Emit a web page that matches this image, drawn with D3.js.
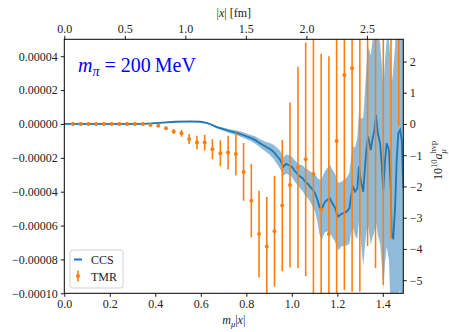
<!DOCTYPE html>
<html>
<head>
<meta charset="utf-8">
<script src="https://cdn.jsdelivr.net/npm/d3@7"></script>
<style>
  body { margin: 0; background: #fff; }
  svg text { font-family: "Liberation Serif", "DejaVu Serif", serif; fill: #222; }
</style>
</head>
<body>
<svg id="chart" width="449" height="332"></svg>
<script>
// values; x is m_mu|x|, y is in units of 1e-5
const ccsX = [0.000, 0.157, 0.346, 0.421, 0.487, 0.553, 0.597, 0.626, 0.645, 0.670, 0.698, 0.728, 0.758, 0.785,
  0.816, 0.838, 0.860, 0.890, 0.904, 0.919, 0.935, 0.949, 0.963, 0.975, 0.985, 1.000, 1.010, 1.022, 1.036, 1.047,
  1.058, 1.071, 1.080, 1.093, 1.102, 1.113, 1.121, 1.131, 1.139, 1.146, 1.160, 1.168, 1.175, 1.190, 1.199, 1.204,
  1.219, 1.226, 1.241, 1.253, 1.260, 1.268, 1.278, 1.288, 1.295, 1.303, 1.314, 1.322, 1.329, 1.336, 1.347, 1.354,
  1.363, 1.370, 1.378, 1.388, 1.395, 1.402, 1.410, 1.417, 1.427, 1.435, 1.439, 1.446, 1.454, 1.461, 1.468, 1.476,
  1.483, 1.490]
const ccsY = [0, 0, 0, 0.07, 0.13, 0.15, 0.13, 0.06, -0.03, -0.19, -0.30, -0.43, -0.53, -0.65,
  -0.81, -0.94, -1.14, -1.38, -1.48, -1.64, -1.89, -2.13, -2.52, -2.36, -2.42, -2.52, -2.72, -2.91, -3.11, -3.19,
  -3.41, -3.54, -3.70, -3.90, -4.09, -4.49, -4.88, -5.08, -4.78, -4.59, -4.43, -4.39, -4.61, -4.96, -5.31, -5.47,
  -5.31, -5.27, -5.18, -4.98, -4.29, -3.70, -4.00, -3.80, -2.52, -3.31, -4.00, -2.52, -1.34, -0.75, -1.54, -0.94,
  -0.35, 0.53, -0.55, -1.14, -2.32, -3.90, -2.13, -1.14, -1.54, -3.90, -6.65, -6.75, -4.88, -2.13, -0.55, -0.35,
  -0.94, -3.80]
const ccsErr = [0.03, 0.03, 0.03, 0.03, 0.03, 0.03, 0.03, 0.04, 0.05, 0.07, 0.09, 0.12, 0.14, 0.16,
  0.18, 0.21, 0.24, 0.30, 0.35, 0.42, 0.48, 0.53, 0.55, 0.56, 0.58, 0.60, 0.62, 0.65, 0.70, 0.75,
  0.80, 0.85, 0.90, 1.00, 1.10, 1.30, 1.60, 1.80, 1.80, 1.80, 1.90, 2.00, 2.00, 2.00, 2.00, 2.00,
  1.90, 1.95, 2.00, 2.10, 2.20, 2.40, 2.60, 3.00, 3.20, 3.60, 4.40, 4.60, 4.90, 5.30, 5.60, 5.80,
  6.00, 6.30, 6.00, 5.90, 5.90, 5.90, 6.00, 6.10, 6.50, 7.50, 9.00, 10.0, 9.50, 9.50, 9.50, 9.50,
  9.50, 9.50]

const tmrX = [0.038, 0.072, 0.106, 0.140, 0.174, 0.208, 0.242, 0.276, 0.310, 0.345, 0.379, 0.413, 0.447, 0.481,
  0.515, 0.549, 0.583, 0.617, 0.651, 0.686, 0.720, 0.754, 0.788, 0.822, 0.856, 0.890, 0.924, 0.958, 0.992,
  1.027, 1.061, 1.095, 1.129, 1.163, 1.197, 1.231, 1.265, 1.299, 1.333, 1.368, 1.402, 1.436, 1.470]
const tmrY = [0, 0, 0, 0, 0, 0, 0, 0, 0, 0, -0.06, -0.10, -0.25, -0.45,
  -0.55, -0.89, -1.10, -1.10, -1.49, -1.73, -1.69, -1.77, -2.83, -4.53, -6.50, -7.24, -6.34, -4.82, -3.60,
  -2.56, -2.09, -2.95, -5.05, -6.50, -1.00, 2.89, 3.29, 6.0, 7.0, 6.5, 6.0, 8.0, 12.0]
const tmrErr = [0.1, 0.1, 0.1, 0.1, 0.1, 0.1, 0.1, 0.1, 0.1, 0.1, 0.06, 0.08, 0.10, 0.14,
  0.20, 0.30, 0.40, 0.47, 0.59, 0.77, 1.00, 1.26, 1.70, 2.16, 2.56, 2.92, 3.27, 3.88, 4.87,
  5.94, 6.90, 9.0, 9.2, 10.5, 10.0, 12.7, 13.2, 15.9, 14.2, 15.0, 15.5, 14.8, 12.1]

const xTicks = [0, 0.2, 0.4, 0.6, 0.8, 1.0, 1.2, 1.4]
const yTicks = [-10, -8, -6, -4, -2, 0, 2, 4]
const fmTicks = [0, 0.5, 1.0, 1.5, 2.0, 2.5]
const rightTicks = [-5, -4, -3, -2, -1, 0, 1, 2]
const muPerFm = 0.532

const blue = '#1f77b4'
const orange = '#ff7f0e'
const pLeft = 64.3, pRight = 403.3, pTop = 39.3, pBottom = 293.3

const svg = d3.select('#chart')

const x = d3.scaleLinear().domain([0, 1.49]).range([pLeft, pRight])
const xFm = d3.scaleLinear().domain([0, 1.49 / muPerFm]).range([pLeft, pRight])
const y = d3.scaleLinear().domain([-10, 5]).range([pBottom, pTop])
const yR = d3.scaleLinear().domain([-5.42, 2.71]).range([pBottom, pTop])

svg.append('clipPath').attr('id', 'plot-clip')
  .append('rect')
    .attr('x', pLeft).attr('y', pTop)
    .attr('width', pRight - pLeft).attr('height', pBottom - pTop)

const plot = svg.append('g').attr('clip-path', 'url(#plot-clip)')

const ccs = ccsX.map((d, i) => ({ x: d, y: ccsY[i], e: ccsErr[i] }))
const tmr = tmrX.map((d, i) => ({ x: d, y: tmrY[i], e: tmrErr[i] }))

plot.append('path')
  .datum(ccs)
  .attr('fill', blue)
  .attr('fill-opacity', 0.5)
  .attr('d', d3.area().x(d => x(d.x)).y0(d => y(d.y - d.e)).y1(d => y(d.y + d.e)))

plot.append('path')
  .datum(ccs)
  .attr('fill', 'none')
  .attr('stroke', blue)
  .attr('stroke-width', 1.8)
  .attr('d', d3.line().x(d => x(d.x)).y(d => y(d.y)))

const bars = plot.selectAll('g.tmr').data(tmr).enter().append('g').attr('class', 'tmr')
bars.append('line')
  .attr('x1', d => x(d.x)).attr('x2', d => x(d.x))
  .attr('y1', d => y(d.y - d.e)).attr('y2', d => y(d.y + d.e))
  .attr('stroke', orange).attr('stroke-width', 1.6)
bars.append('circle')
  .attr('cx', d => x(d.x)).attr('cy', d => y(d.y))
  .attr('r', 2).attr('fill', orange)

// axes
function styleAxis(g) {
  g.select('.domain').remove()
  g.selectAll('.tick line').attr('stroke', '#000').attr('stroke-width', 0.9)
  g.selectAll('.tick text').attr('font-size', 12).attr('fill', '#222')
    .attr('font-family', '"Liberation Serif", serif')
}

const fmtLeft = v => {
  const s = Math.abs(v * 1e-5).toFixed(5)
  return v < 0 ? '\u2212' + s : s
}

svg.append('g').attr('transform', `translate(0,${pBottom})`)
  .call(d3.axisBottom(x).tickValues(xTicks).tickFormat(d3.format('.1f')).tickSize(3.5).tickPadding(3))
  .call(styleAxis)
svg.append('g').attr('transform', `translate(0,${pTop})`)
  .call(d3.axisTop(xFm).tickValues(fmTicks).tickFormat(d3.format('.1f')).tickSize(3.5).tickPadding(3))
  .call(styleAxis)
svg.append('g').attr('transform', `translate(${pLeft},0)`)
  .call(d3.axisLeft(y).tickValues(yTicks).tickFormat(fmtLeft).tickSize(3.5).tickPadding(3))
  .call(styleAxis)
svg.append('g').attr('transform', `translate(${pRight},0)`)
  .call(d3.axisRight(yR).tickValues(rightTicks).tickFormat(d3.format('d')).tickSize(3.5).tickPadding(3))
  .call(styleAxis)

svg.append('rect')
  .attr('x', pLeft).attr('y', pTop)
  .attr('width', pRight - pLeft).attr('height', pBottom - pTop)
  .attr('fill', 'none').attr('stroke', '#000').attr('stroke-width', 1)

// axis labels
const xl = svg.append('text').attr('x', (pLeft + pRight) / 2).attr('y', 324)
  .attr('text-anchor', 'middle').attr('font-size', 12)
xl.append('tspan').attr('font-style', 'italic').text('m')
xl.append('tspan').attr('font-style', 'italic').attr('font-size', 8.5).attr('dy', 2.5).text('μ')
xl.append('tspan').attr('dy', -2.5).text('|')
xl.append('tspan').attr('font-style', 'italic').text('x')
xl.append('tspan').text('|')

const tl = svg.append('text').attr('x', (pLeft + pRight) / 2).attr('y', 17)
  .attr('text-anchor', 'middle').attr('font-size', 12)
tl.append('tspan').text('|')
tl.append('tspan').attr('font-style', 'italic').text('x')
tl.append('tspan').text('| [fm]')

const rl = svg.append('g').attr('transform', 'translate(442,160) rotate(-90)')
rl.append('text').attr('x', -20).attr('y', 0).attr('font-size', 12).text('10')
rl.append('text').attr('x', -8).attr('y', -5).attr('font-size', 8.5).text('10')
rl.append('text').attr('x', 0.5).attr('y', 0).attr('font-size', 12).attr('font-style', 'italic').text('a')
rl.append('text').attr('x', 6.5).attr('y', -6).attr('font-size', 8.5).text('hvp')
rl.append('text').attr('x', 6.5).attr('y', 3.5).attr('font-size', 8.5).attr('font-style', 'italic').text('μ')

// annotation
const ann = svg.append('text').attr('x', 78).attr('y', 72).attr('font-size', 20)
ann.append('tspan').attr('font-style', 'italic').attr('fill', '#0000ff').text('m')
ann.append('tspan').attr('font-style', 'italic').attr('font-size', 14).attr('dy', 3.5).attr('fill', '#0000ff').text('π')
ann.append('tspan').attr('dy', -3.5).attr('fill', '#0000ff').text(' = 200\u2009MeV')

// legend
const leg = svg.append('g')
leg.append('rect').attr('x', 70).attr('y', 250).attr('width', 53).attr('height', 38).attr('rx', 2.5)
  .attr('fill', '#fff').attr('fill-opacity', 0.8).attr('stroke', '#ccc').attr('stroke-width', 0.9)
leg.append('line').attr('x1', 74).attr('x2', 82).attr('y1', 259.5).attr('y2', 259.5)
  .attr('stroke', blue).attr('stroke-width', 2)
leg.append('line').attr('x1', 78).attr('x2', 78).attr('y1', 270.5).attr('y2', 281.5)
  .attr('stroke', orange).attr('stroke-width', 1.6)
leg.append('circle').attr('cx', 78).attr('cy', 276).attr('r', 2).attr('fill', orange)
leg.append('text').attr('x', 91).attr('y', 264).attr('font-size', 12).text('CCS')
leg.append('text').attr('x', 91).attr('y', 281).attr('font-size', 12).text('TMR')
</script>
</body>
</html>
